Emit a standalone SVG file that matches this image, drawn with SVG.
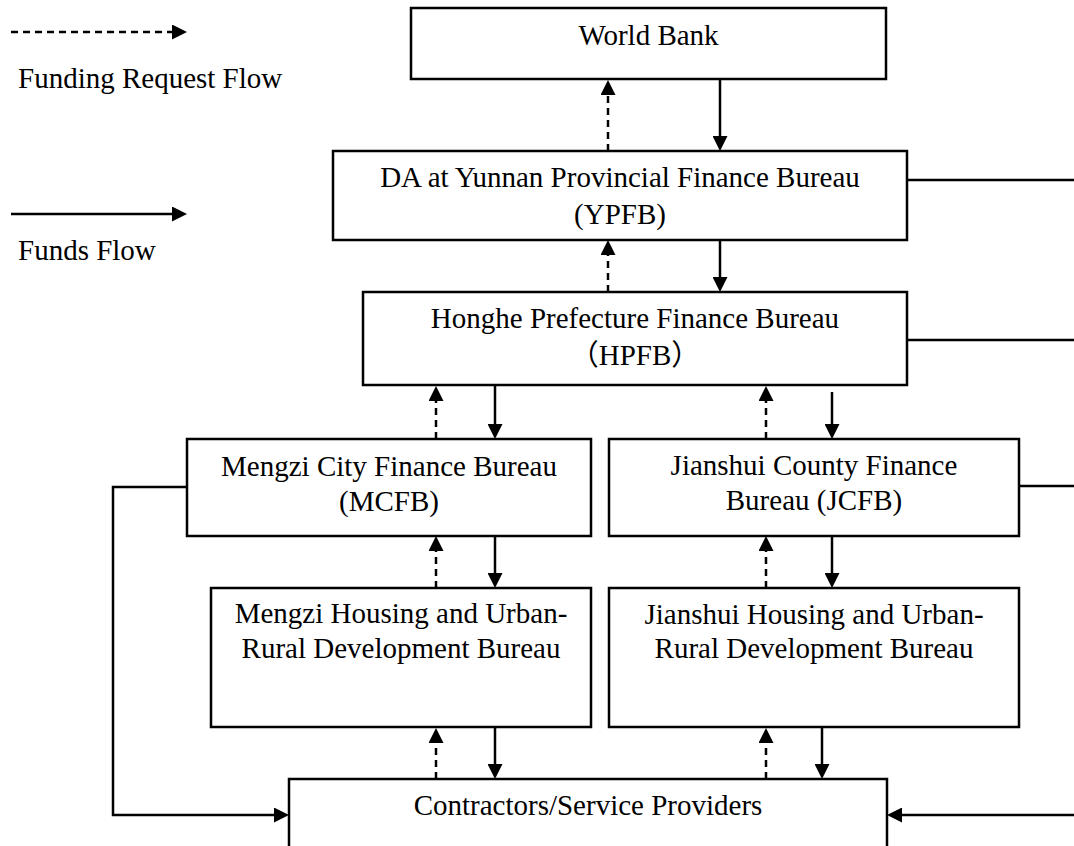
<svg xmlns="http://www.w3.org/2000/svg" width="1074" height="846" viewBox="0 0 1074 846">
<style>
.box{fill:#fff;stroke:#000;stroke-width:2.5}
.ln{fill:none;stroke:#000;stroke-width:2.5}
.sol{marker-end:url(#ah)}
.dsh{stroke-dasharray:7 5;marker-end:url(#ah)}
text{font-family:"Liberation Serif","Times New Roman","Noto Sans CJK SC",serif;font-size:29px;fill:#000}
.c{text-anchor:middle}
</style>
<defs>
<marker id="ah" viewBox="0 0 15 15" refX="3" refY="7.5" markerWidth="15" markerHeight="15" markerUnits="userSpaceOnUse" orient="auto">
<path d="M0,0 L15,7.5 L0,15 Z" fill="#000"/>
</marker>
</defs>

<g id="legend">
<path class="ln dsh" d="M11 32 H175"/>
<text x="18" y="88">Funding Request Flow</text>
<path class="ln sol" d="M11 214 H175"/>
<text x="18" y="260">Funds Flow</text>
</g>

<g id="connectors">
<path class="ln dsh" d="M608 151 V92"/>
<path class="ln sol" d="M720 79 V139"/>
<path class="ln dsh" d="M608 292 V252"/>
<path class="ln sol" d="M720 240 V280"/>
<path class="ln dsh" d="M436 439 V398"/>
<path class="ln sol" d="M495 385 V427"/>
<path class="ln dsh" d="M766 439 V398"/>
<path class="ln sol" d="M832 392 V427"/>
<path class="ln dsh" d="M436 588 V548"/>
<path class="ln sol" d="M495 536 V576"/>
<path class="ln dsh" d="M766 588 V548"/>
<path class="ln sol" d="M832 536 V576"/>
<path class="ln dsh" d="M436 779 V740"/>
<path class="ln sol" d="M495 728 V767"/>
<path class="ln dsh" d="M766 779 V740"/>
<path class="ln sol" d="M822 728 V767"/>
<path class="ln sol" d="M187 487 H113 V815 H277"/>
<path class="ln sol" d="M1080 815 H899"/>
<path class="ln" d="M907 180 H1080"/>
<path class="ln" d="M907 340 H1080"/>
<path class="ln" d="M1019 486 H1080"/>
</g>

<g id="world-bank">
<rect class="box" x="411" y="8" width="475" height="71"/>
<text class="c" x="648.5" y="45">World Bank</text>
</g>

<g id="ypfb">
<rect class="box" x="333" y="151" width="574" height="89"/>
<text class="c" x="620" y="187">DA at Yunnan Provincial Finance Bureau</text>
<text class="c" x="620" y="224">(YPFB)</text>
</g>

<g id="hpfb">
<rect class="box" x="363" y="292" width="544" height="93"/>
<text class="c" x="635" y="328">Honghe Prefecture Finance Bureau</text>
<text class="c" x="635" y="365">（HPFB）</text>
</g>

<g id="mcfb">
<rect class="box" x="187" y="439" width="404" height="97"/>
<text class="c" x="389" y="476">Mengzi City Finance Bureau</text>
<text class="c" x="389" y="511">(MCFB)</text>
</g>

<g id="jcfb">
<rect class="box" x="609" y="439" width="410" height="97"/>
<text class="c" x="814" y="475">Jianshui County Finance</text>
<text class="c" x="814" y="510">Bureau (JCFB)</text>
</g>

<g id="mengzi-housing">
<rect class="box" x="211" y="588" width="380" height="139"/>
<text class="c" x="401" y="623">Mengzi Housing and Urban-</text>
<text class="c" x="401" y="658">Rural Development Bureau</text>
</g>

<g id="jianshui-housing">
<rect class="box" x="609" y="588" width="410" height="139"/>
<text class="c" x="814" y="624">Jianshui Housing and Urban-</text>
<text class="c" x="814" y="658">Rural Development Bureau</text>
</g>

<g id="contractors">
<rect class="box" x="289" y="779" width="598" height="81"/>
<text class="c" x="588" y="815">Contractors/Service Providers</text>
</g>
</svg>
